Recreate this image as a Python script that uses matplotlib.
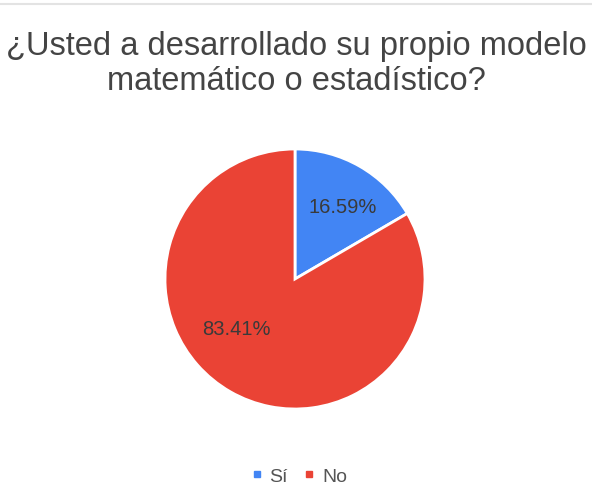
import matplotlib.pyplot as plt
from matplotlib.lines import Line2D

plt.rcParams['font.family'] = ['Liberation Sans', 'DejaVu Sans']

categorias = ['Sí', 'No']
porcentajes = [16.59, 83.41]
colores = ['#4285F4', '#EA4335']

W, H = 592, 502
fig = plt.figure(figsize=(W / 100, H / 100), dpi=100)

# linea gris de borde arriba
fig.add_artist(Line2D([0, 1], [1 - 5 / H, 1 - 5 / H], color='#e3e3e3', lw=1.5))

fig.text(0.5, 1 - 64 / H, '¿Usted a desarrollado su propio modelo\nmatemático o estadístico?',
         ha='center', va='center', fontsize=23.5, color='#444444', linespacing=1.17)

cx, cy, r = 295, 280, 130
ax = fig.add_axes([(cx - r) / W, (H - cy - r) / H, 2 * r / W, 2 * r / H])
wedges, textos, pcts = ax.pie(porcentajes, colors=colores, startangle=90, counterclock=False,
                              autopct='%.2f%%', pctdistance=0.65,
                              wedgeprops=dict(edgecolor='white', linewidth=2),
                              textprops=dict(fontsize=14.5, color='#3a3a3a'))
pcts[0].set_position((0.37, 0.56))
pcts[1].set_position((-0.45, -0.38))
ax.set_xlim(-1, 1)
ax.set_ylim(-1, 1)
ax.axis('off')

handles = [Line2D([], [], marker='s', ls='', color=c, markersize=5) for c in colores]
fig.legend(handles, categorias, loc='center', bbox_to_anchor=(0.505, 1 - 477 / H), ncol=2,
           frameon=False, fontsize=14, handletextpad=0.35, columnspacing=0.8,
           labelcolor='#555555', handlelength=0.6)

fig.savefig('out.png', dpi=100)
